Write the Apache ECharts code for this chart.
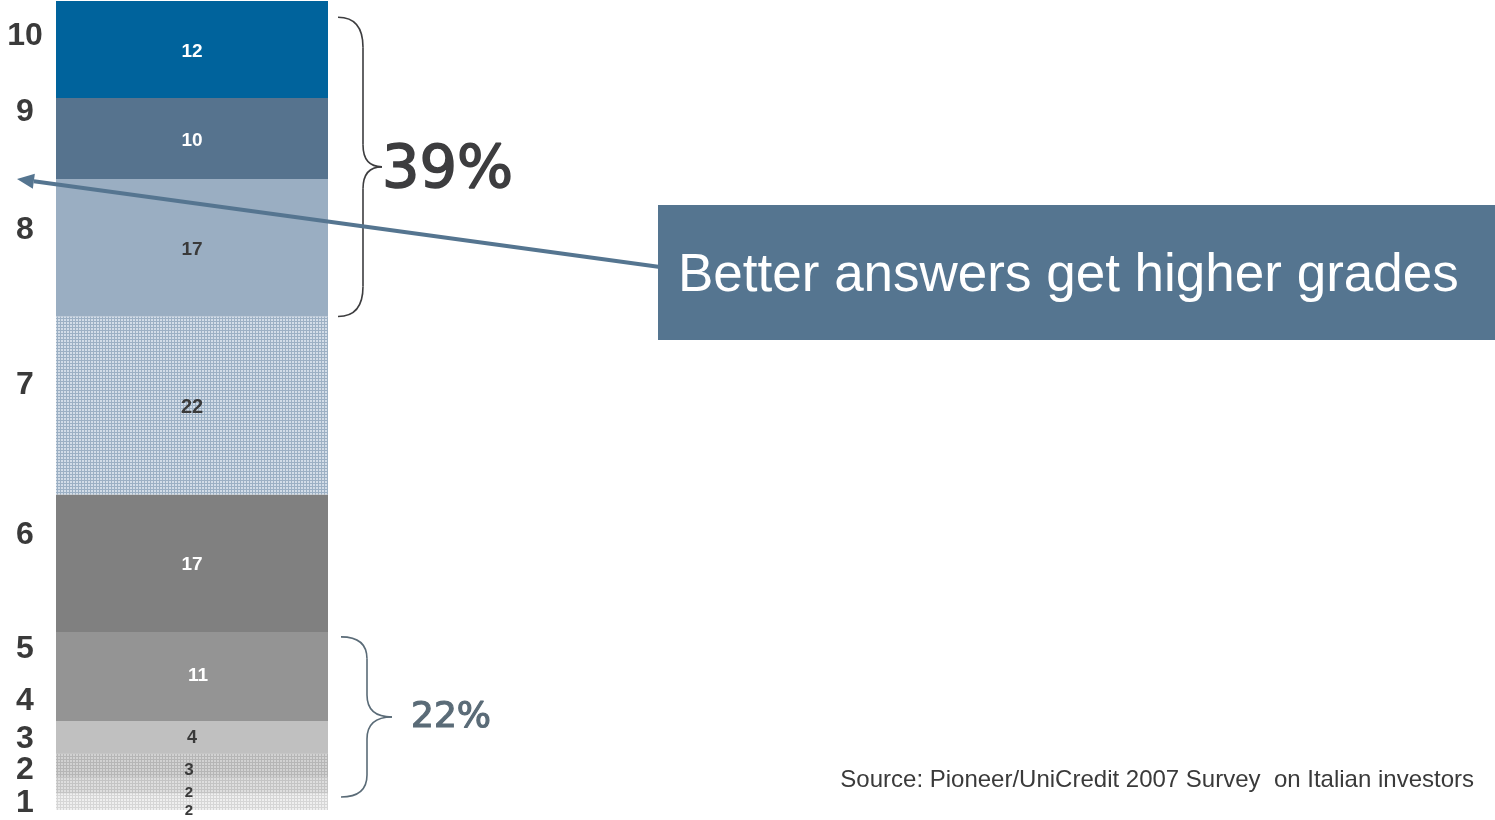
<!DOCTYPE html>
<html>
<head>
<meta charset="utf-8">
<script src="https://cdn.jsdelivr.net/npm/echarts@6/dist/echarts.min.js"></script>
<style>
html,body{margin:0;padding:0;background:#fff;}
#chart{width:1495px;height:820px;}
</style>
</head>
<body>
<div id="chart"></div>
<script>
// ---- data ----
const categories = ['Grade distribution'];
// stacked segments, bottom to top
const segmentValues = [2, 2, 3, 4, 11, 17, 22, 17, 10, 12];
// grade labels on the left and their vertical positions (in % units of the stack)
const gradeLabels = ['10', '9', '8', '7', '6', '5', '4', '3', '2', '1'];
const gradePositions = [95.6, 86.3, 71.7, 52.5, 34.0, 19.9, 13.5, 8.8, 4.9, 0.8];
// bracket annotations: [from, to] in stack units, and text
const topBracketRange = [61, 98];
const topBracketText = '39%';
const bottomBracketRange = [1.6, 21.4];
const bottomBracketText = '22%';
const calloutText = 'Better answers get higher grades';
const sourceText = 'Source: Pioneer/UniCredit 2007 Survey  on Italian investors';

// ---- styles ----
function gridPattern(base, line) {
  const c = document.createElement('canvas');
  c.width = 3; c.height = 3;
  const g = c.getContext('2d');
  g.fillStyle = base; g.fillRect(0, 0, 3, 3);
  g.fillStyle = line; g.fillRect(0, 0, 3, 1); g.fillRect(0, 0, 1, 3);
  return { image: c, repeat: 'repeat' };
}
const segmentColors = [
  gridPattern('#efefef', '#d6d6d6'),
  gridPattern('#dedede', '#c4c4c4'),
  gridPattern('#d2d2d2', '#b6b6b6'),
  '#c0c0c0',
  '#949494',
  '#808080',
  gridPattern('#d3dde8', '#9cb0c4'),
  '#9aaec2',
  '#56738e',
  '#00639c'
];
const labelColors = ['#3a3a3a','#3a3a3a','#3a3a3a','#3a3a3a','#ffffff','#ffffff','#3a3a3a','#3a3a3a','#ffffff','#ffffff'];
const labelSizes = [15, 15, 17, 18, 19, 19, 20, 19, 19, 19];
const labelOffsets = [[-3, 9], [-3, 7], [-3, 5], [0, 1], [6, -1], [0, 2], [0, 2], [0, 2], [0, 2], [0, 2]];

const chart = echarts.init(document.getElementById('chart'));

const series = segmentValues.map((v, i) => ({
  type: 'bar',
  stack: 'total',
  name: 'seg' + i,
  data: [v],
  barWidth: '100%',
  barCategoryGap: 0,
  itemStyle: { color: segmentColors[i] },
  silent: true,
  z: 2,
  label: {
    show: true,
    position: 'inside',
    formatter: String(v),
    color: labelColors[i],
    fontSize: labelSizes[i],
    fontWeight: 'bold',
    fontFamily: 'Liberation Sans, Arial, sans-serif',
    offset: labelOffsets[i]
  }
}));

chart.setOption({
  animation: false,
  grid: { left: 56, right: 1167, top: 1, bottom: 10 },
  xAxis: { type: 'category', data: categories, show: false },
  yAxis: { type: 'value', min: 0, max: 100, show: false },
  series: series
});

function yPx(v) { return chart.convertToPixel({ yAxisIndex: 0 }, v); }

const graphics = [];
function braceParts(x0, xv, xTip, yTop, yBot, r, rm, color) {
  const yMid = (yTop + yBot) / 2;
  const st = { stroke: color, lineWidth: 1.6, fill: null };
  const q = (a, b, c, d, e, f) => graphics.push({ type: 'bezierCurve', silent: true, z: 100,
    shape: { x1: a, y1: b, cpx1: c, cpy1: d, x2: e, y2: f }, style: st });
  const l = (a, b, c, d) => graphics.push({ type: 'line', silent: true, z: 100,
    shape: { x1: a, y1: b, x2: c, y2: d }, style: st });
  q(x0, yTop, xv, yTop, xv, yTop + r);
  l(xv, yTop + r, xv, yMid - rm);
  q(xv, yMid - rm, xv, yMid, xTip, yMid);
  q(xTip, yMid, xv, yMid, xv, yMid + rm);
  l(xv, yMid + rm, xv, yBot - r);
  q(xv, yBot - r, xv, yBot, x0, yBot);
}

// grade labels
gradeLabels.forEach((t, i) => {
  graphics.push({
    type: 'text', silent: true, z: 100,
    style: { x: 25, y: yPx(gradePositions[i]), text: t, fill: '#3a3a3a',
      font: 'bold 32px "Liberation Sans", Arial, sans-serif', align: 'center', verticalAlign: 'middle' }
  });
});
// top brace
const tT = yPx(topBracketRange[1]), tB = yPx(topBracketRange[0]);
braceParts(338, 363, 382, tT, tB, 30, 22, '#3d3d3f');
graphics.push({
  type: 'text', silent: true, z: 100,
  style: { x: 382, y: (tT + tB) / 2 + 5, text: topBracketText, fill: '#3d3d3f',
    stroke: '#3d3d3f', lineWidth: 1.6,
    font: '59px "DejaVu Sans", sans-serif', align: 'left', verticalAlign: 'middle' }
});
// bottom brace
const bT = yPx(bottomBracketRange[1]), bB = yPx(bottomBracketRange[0]);
braceParts(341, 367, 392, bT, bB, 22, 22, '#5a6b77');
graphics.push({
  type: 'text', silent: true, z: 100,
  style: { x: 411, y: (bT + bB) / 2 + 1, text: bottomBracketText, fill: '#5a6b77',
    stroke: '#5a6b77', lineWidth: 1.2,
    font: '36px "DejaVu Sans", sans-serif', align: 'left', verticalAlign: 'middle' }
});
// arrow
const ax0 = 660, ay0 = 267, ax1 = 17, ay1 = 179;
const ang = Math.atan2(ay1 - ay0, ax1 - ax0);
const hl = 17, hw = 7.5;
const bx = ax1 - hl * Math.cos(ang), by = ay1 - hl * Math.sin(ang);
graphics.push({
  type: 'line', silent: true, z: 100,
  shape: { x1: ax0, y1: ay0, x2: bx, y2: by },
  style: { stroke: '#557590', lineWidth: 4 }
});
graphics.push({
  type: 'polygon', silent: true, z: 100,
  shape: { points: [[ax1, ay1],
    [bx + hw * Math.sin(ang), by - hw * Math.cos(ang)],
    [bx - hw * Math.sin(ang), by + hw * Math.cos(ang)]] },
  style: { fill: '#557590' }
});
// callout box
graphics.push({
  type: 'rect', silent: true, z: 100,
  shape: { x: 658, y: 205, width: 837, height: 135 },
  style: { fill: '#557590' }
});
graphics.push({
  type: 'text', silent: true, z: 101,
  style: { x: 678, y: 276, text: calloutText, fill: '#ffffff',
    font: '53px "Liberation Sans", Arial, sans-serif', align: 'left', verticalAlign: 'middle' }
});
// source
graphics.push({
  type: 'text', silent: true, z: 100,
  style: { x: 1474, y: 780, text: sourceText, fill: '#3a3a3a',
    font: '24px "Liberation Sans", Arial, sans-serif', align: 'right', verticalAlign: 'middle' }
});

chart.setOption({ graphic: graphics });
</script>
</body>
</html>
